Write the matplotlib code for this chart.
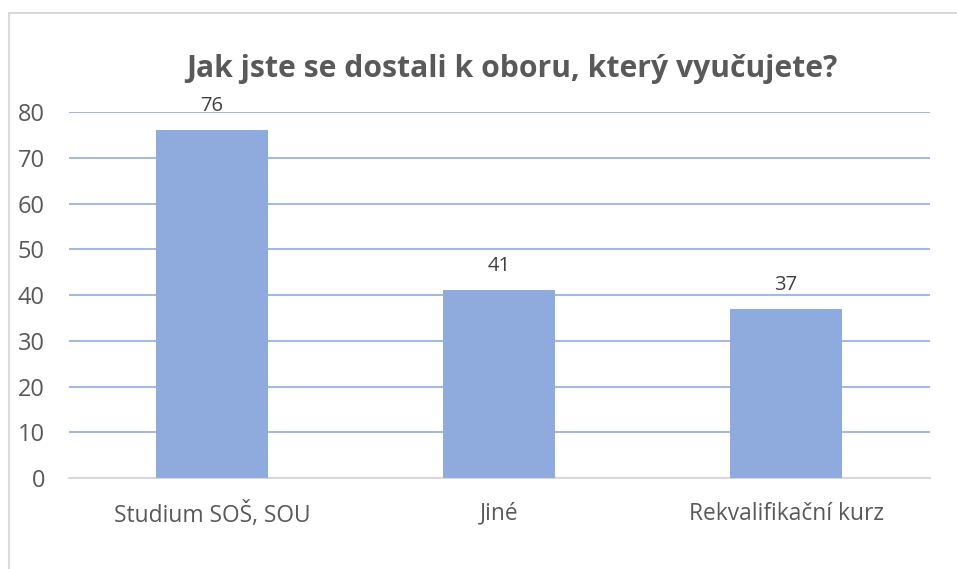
import matplotlib.pyplot as plt
from matplotlib.patches import Rectangle

# Data
categories = ['Studium SOŠ, SOU', 'Jiné', 'Rekvalifikační kurz']
values = [76, 41, 37]
yticks = [0, 10, 20, 30, 40, 50, 60, 70, 80]

text_color = '#595959'
bar_color = '#8FAADC'
grid_color = '#A4BAE3'

plt.rcParams['font.family'] = ['Open Sans', 'DejaVu Sans']

fig = plt.figure(figsize=(9.57, 5.69), dpi=100)
ax = fig.add_axes([0.0716, 0.1599, 0.8997, 0.6432])

# frame around the chart (light grey, like the Excel chart border)
fig.patches.append(Rectangle((9 / 957, -0.05), 1.0, 1 - 13 / 569 + 0.05,
                             transform=fig.transFigure, fill=False,
                             edgecolor='#D9D9D9', linewidth=1.5))

x = range(len(categories))
bars = ax.bar(x, values, width=0.39, color=bar_color, zorder=3)

for b, v in zip(bars, values):
    ax.text(b.get_x() + b.get_width() / 2, v + 5.3, str(v), ha='center',
            va='center', fontsize=14.5, color='#404040')

ax.set_xlim(-0.5, len(categories) - 0.5)
ax.set_ylim(0, 80)
ax.set_yticks(yticks)
ax.set_xticks(list(x))
ax.set_xticklabels(categories)
ax.yaxis.grid(True, color=grid_color, linewidth=1.5, zorder=0)
ax.set_axisbelow(True)

for s in ['top', 'right', 'left']:
    ax.spines[s].set_visible(False)
ax.spines['bottom'].set_color('#D9D9D9')
ax.spines['bottom'].set_linewidth(1.5)

ax.tick_params(axis='both', length=0, labelsize=16.4, colors=text_color)
ax.tick_params(axis='y', labelsize=17, pad=17)
ax.tick_params(axis='x', pad=17)

fig.text(0.535, 0.878, 'Jak jste se dostali k oboru, který vyučujete?',
         ha='center', va='center', fontsize=21.7, fontweight='bold',
         color=text_color)

fig.savefig('out.png', dpi=100)
